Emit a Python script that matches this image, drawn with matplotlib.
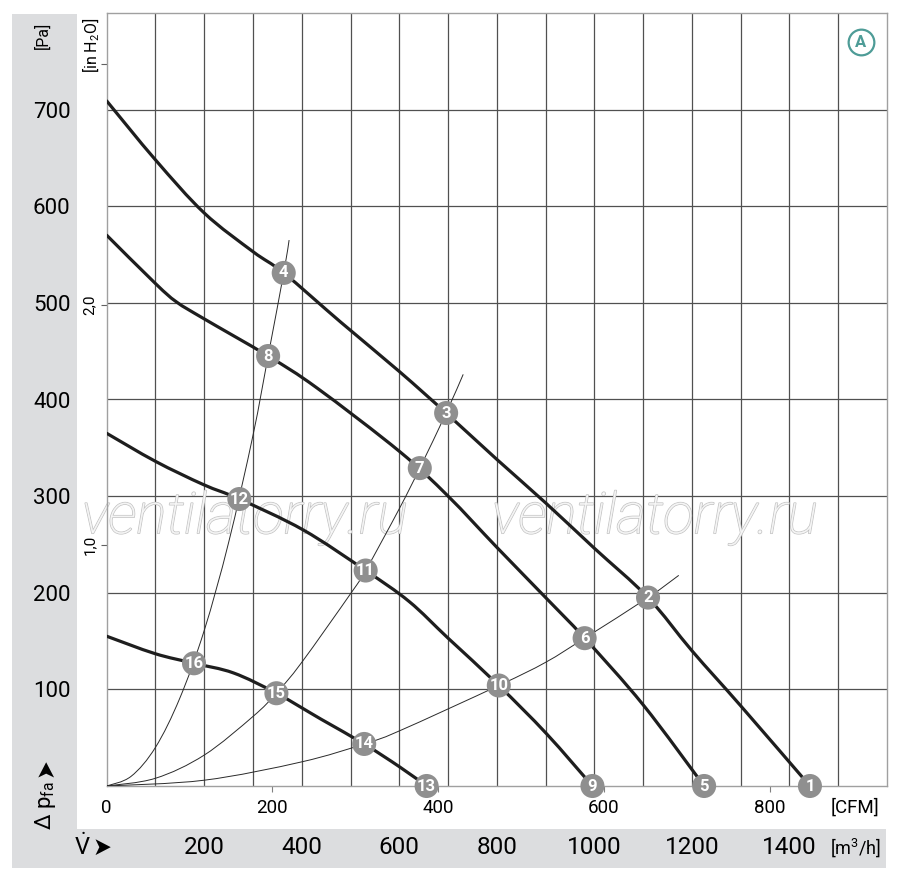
import numpy as np
import matplotlib
matplotlib.use("Agg")
import matplotlib.pyplot as plt
from matplotlib.path import Path
from matplotlib.patches import PathPatch, Rectangle
import matplotlib.patheffects as pe

plt.rcParams['font.family'] = ['Roboto', 'DejaVu Sans']
plt.rcParams['font.stretch'] = 'condensed'
plt.rcParams['mathtext.default'] = 'regular'

# fan curves, flow in m3/h, pressure in Pa
curve_a_x = [0, 100, 200, 300, 363, 480, 600, 696, 800, 900, 1000, 1110, 1200, 1300, 1442]
curve_a_y = [709, 648, 593, 553, 531, 480, 429, 386, 338, 293, 246, 195, 140, 83, 0]
curve_b_x = [0, 100, 143, 198, 331, 431, 601, 700, 800, 902, 980, 1100, 1225]
curve_b_y = [570, 520, 501, 484, 445, 412, 346, 300, 247, 194, 153, 84, 0]
curve_c_x = [0, 100, 198, 272, 403, 531, 620, 700, 804, 902, 996]
curve_c_y = [365, 336, 312, 297, 265, 223, 191, 153, 104, 54, 0]
curve_d_x = [0, 99, 179, 260, 348, 440, 528, 600, 656]
curve_d_y = [155, 137, 127, 117, 96, 69, 43.5, 20, 0]

# system resistance curves
sys1_x = [0, 50, 100, 150, 200, 250, 300, 331, 363, 374]
sys1_y = [0, 10, 40, 91, 161, 252, 363, 445, 531, 565]
sys2_x = [0, 100, 200, 300, 348, 400, 500, 531, 600, 642, 696, 731]
sys2_y = [0, 8, 32, 72, 96, 128, 199, 223, 287, 329, 386, 426]
sys3_x = [0, 200, 400, 528, 600, 804, 900, 980, 1110, 1173]
sys3_y = [0, 6, 25, 43.5, 57, 104, 128, 153, 195, 218]

# operating points
point_num = [1, 2, 3, 4, 5, 6, 7, 8, 9, 10, 11, 12, 13, 14, 15, 16]
point_x = [1442, 1110, 696, 363, 1225, 980, 642, 331, 996, 804, 531, 272, 656, 528, 348, 179]
point_y = [0, 195, 386, 531, 0, 153, 329, 445, 0, 104, 223, 297, 0, 43.5, 96, 127]

pa_ticks = [100, 200, 300, 400, 500, 600, 700]
m3h_ticks = [200, 400, 600, 800, 1000, 1200, 1400]
cfm_ticks = [0, 200, 400, 600, 800]
inh2o_ticks = [1, 2, 3]
inh2o_labels = ['1,0', '2,0', '']


def smooth_path(x, y):
    # catmull-rom through the read points, drawn as bezier
    p = np.column_stack([x, y]).astype(float)
    verts = [p[0]]
    codes = [Path.MOVETO]
    for i in range(len(p) - 1):
        p0 = p[i - 1] if i > 0 else p[i]
        p1 = p[i]
        p2 = p[i + 1]
        p3 = p[i + 2] if i + 2 < len(p) else p[i + 1]
        verts += [p1 + (p2 - p0) / 6, p2 - (p3 - p1) / 6, p2]
        codes += [Path.CURVE4] * 3
    return Path(verts, codes)


W, H = 900, 880
fig = plt.figure(figsize=(9, 8.8), dpi=100)
band = '#dcdddf'
fig.add_artist(Rectangle((12 / W, 12 / H), 65 / W, 854 / H, transform=fig.transFigure, fc=band, ec='none', zorder=0))
fig.add_artist(Rectangle((12 / W, 12 / H), 874 / W, 39 / H, transform=fig.transFigure, fc=band, ec='none', zorder=0))

ax = fig.add_axes([106.7 / W, 1 - 786 / H, (887 - 106.7) / W, (786 - 13) / H])
ax.set_xlim(0, 1600)
ax.set_ylim(0, 800)
for s in ax.spines.values():
    s.set_color('#a0a0a0')
    s.set_linewidth(1)

for gx in range(100, 1600, 100):
    ax.axvline(gx, color='#505050', lw=0.9, zorder=1)
for gy in range(100, 800, 100):
    ax.axhline(gy, color='#505050', lw=0.9, zorder=1)

# watermark
for cx in [245, 655]:
    ax.text(cx / W, 1 - 518 / H, 'ventilatorry.ru', fontsize=41, style='italic', fontweight='light',
            color=(1, 1, 1, 0.6), ha='center', va='center', zorder=2, transform=fig.transFigure,
            path_effects=[pe.withStroke(linewidth=1.1, foreground='#c2c2c2'), pe.Normal()])

for xs, ys in [(sys1_x, sys1_y), (sys2_x, sys2_y), (sys3_x, sys3_y)]:
    ax.add_patch(PathPatch(smooth_path(xs, ys), fill=False, ec='#2a2a2a', lw=0.7, zorder=3))
for xs, ys in [(curve_a_x, curve_a_y), (curve_b_x, curve_b_y), (curve_c_x, curve_c_y), (curve_d_x, curve_d_y)]:
    ax.add_patch(PathPatch(smooth_path(xs, ys), fill=False, ec='#1e1e1e', lw=2.3, zorder=4,
                           capstyle='round', joinstyle='round'))

ax.scatter(point_x, point_y, s=300, c='#8f8f8f', edgecolors='none', zorder=5, clip_on=False)
for n, px, py in zip(point_num, point_x, point_y):
    ax.text(px, py, str(n), color='white', fontsize=12, fontweight='bold',
            ha='center', va='center', zorder=6, clip_on=False)

# circled A
ax.plot([(861 - 106.7) / (887 - 106.7)], [(786 - 42) / (786 - 13)], 'o', ms=18.5, mfc='white',
        mec='#4e9c97', mew=1.6, transform=ax.transAxes, clip_on=False, zorder=7)
ax.text((861 - 106.7) / (887 - 106.7), (786 - 42.5) / (786 - 13), 'A', color='#4e9c97', fontsize=12,
        fontweight='bold', ha='center', va='center', transform=ax.transAxes, zorder=8)

# Pa and m3/h labels
ax.set_yticks(pa_ticks)
ax.set_yticklabels([str(v) for v in pa_ticks], fontsize=16)
ax.tick_params(axis='y', length=0, pad=26)
ax.set_xticks(m3h_ticks)
ax.set_xticklabels([str(v) for v in m3h_ticks], fontsize=17.5)
ax.tick_params(axis='x', length=0, pad=36)

# CFM axis
cfm = ax.secondary_xaxis('bottom', functions=(lambda v: v / 1.699, lambda v: v * 1.699))
cfm.set_xticks(cfm_ticks)
cfm.set_xticklabels([str(v) for v in cfm_ticks], fontsize=13.5)
cfm.tick_params(length=4.5, width=0.8, color='#808080', pad=5)
cfm.spines['bottom'].set_visible(False)
cfm.xaxis.get_major_ticks()[0].tick1line.set_visible(False)

# in H2O axis
inh = ax.secondary_yaxis('left', functions=(lambda v: v / 249.09, lambda v: v * 249.09))
inh.set_yticks(inh2o_ticks)
inh.set_yticklabels(inh2o_labels, fontsize=11, rotation=90, va='center')
inh.tick_params(length=4.5, width=0.8, color='#606060', pad=2.5)
inh.spines['left'].set_visible(False)

fig.text(43 / W, 1 - 35 / H, '[Pa]', fontsize=11.5, rotation=90, ha='center', va='center')
fig.text(91 / W, 1 - 45 / H, '[in H$_2$O]', fontsize=11.5, rotation=90, ha='center', va='center')
fig.text(46 / W, 1 - 806 / H, '\u0394 p$_{fa}$', fontsize=16, rotation=90, ha='center', va='center')
fig.text(45 / W, 1 - 768 / H, '\u27a4', fontsize=18, rotation=90, ha='center', va='center',
         family='DejaVu Sans')
fig.text(855 / W, 1 - 808 / H, '[CFM]', fontsize=13.5, ha='center', va='center')
fig.text(856 / W, 1 - 848 / H, '[m$^3$/h]', fontsize=13, ha='center', va='center')
fig.text(82 / W, 1 - 847 / H, '$\\dot{V}$', fontsize=17, ha='center', va='center')
fig.text(102 / W, 1 - 848 / H, '\u27a4', fontsize=18, ha='center', va='center', family='DejaVu Sans')

fig.savefig('out.png', dpi=100)
